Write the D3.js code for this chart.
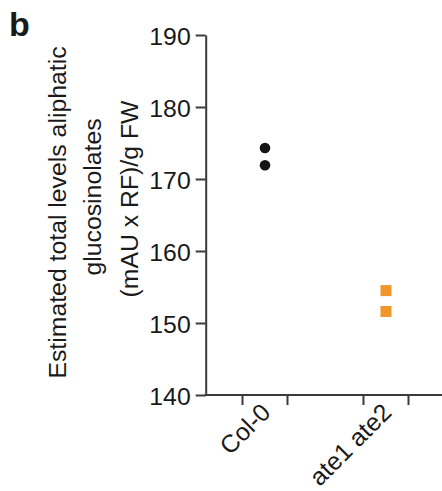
<!DOCTYPE html>
<html>
<head>
<meta charset="utf-8">
<script src="https://cdn.jsdelivr.net/npm/d3@7"></script>
<style>
  html, body { margin: 0; padding: 0; background: #fff; }
  svg { display: block; font-family: "Liberation Sans", Arial, sans-serif; }
</style>
</head>
<body>
<svg id="chart" width="442" height="491"></svg>
<script>
// ---- data ----
const categories = ["Col-0", "ate1 ate2"];
const colValues = [174.3, 171.9];
const ateValues = [154.5, 151.6];
const yTicks = [140, 150, 160, 170, 180, 190];
const titleLines = ["Estimated total levels aliphatic", "glucosinolates", "(mAU x RF)/g FW"];
const panelLabel = "b";

const svg = d3.select("#chart");
const axisColor = "#3a3a3a";
const fs = 24.8;

const y = d3.scaleLinear().domain([140, 190]).range([395, 35]);
const x = d3.scalePoint().domain(categories).range([265, 386]);
const axisX = 205.7;

// y axis
const yAxis = svg.append("g")
  .attr("transform", `translate(${axisX},0)`)
  .call(d3.axisLeft(y).tickValues(yTicks).tickSize(10).tickSizeOuter(0).tickPadding(5).tickFormat(d3.format("d")));
yAxis.select(".domain").attr("stroke", axisColor).attr("stroke-width", 2);
yAxis.selectAll(".tick line").attr("stroke", axisColor).attr("stroke-width", 2);
yAxis.selectAll(".tick text")
  .attr("font-size", fs)
  .attr("fill", "#1a1a1a")
  .attr("dy", "0.4em");

// x axis
svg.append("line")
  .attr("x1", axisX - 1).attr("x2", 442)
  .attr("y1", y(140)).attr("y2", y(140))
  .attr("stroke", axisColor).attr("stroke-width", 2);

const xg = svg.append("g").selectAll("g").data(categories).join("g");
xg.selectAll("line").data(d => [x(d) - 22.5, x(d) + 22.5]).join("line")
  .attr("x1", d => d).attr("x2", d => d)
  .attr("y1", y(140)).attr("y2", y(140) + 10)
  .attr("stroke", axisColor).attr("stroke-width", 2);
xg.append("text")
  .attr("transform", d => `translate(${x(d) + 7},${y(140) + 19}) rotate(-45)`)
  .attr("text-anchor", "end")
  .attr("font-size", fs)
  .attr("fill", "#1a1a1a")
  .text(d => d);

// points
svg.append("g").selectAll("circle").data(colValues).join("circle")
  .attr("cx", x("Col-0"))
  .attr("cy", d => y(d))
  .attr("r", 5.3)
  .attr("fill", "#151515");

const sq = 11;
svg.append("g").selectAll("rect").data(ateValues).join("rect")
  .attr("x", x("ate1 ate2") - sq / 2)
  .attr("y", d => y(d) - sq / 2)
  .attr("width", sq).attr("height", sq)
  .attr("fill", "#f0962b");

// y title
const titlePos = [[66, 212.5], [101, 197], [138, 199]];
svg.append("g").selectAll("text").data(titleLines).join("text")
  .attr("transform", (d, i) => `translate(${titlePos[i][0]},${titlePos[i][1]}) rotate(-90)`)
  .attr("text-anchor", "middle")
  .attr("font-size", fs)
  .attr("fill", "#1a1a1a")
  .text(d => d);

// panel label
svg.append("text")
  .attr("x", 9).attr("y", 36)
  .attr("font-size", 34)
  .attr("font-weight", "bold")
  .attr("fill", "#1a1a1a")
  .text(panelLabel);
</script>
</body>
</html>
